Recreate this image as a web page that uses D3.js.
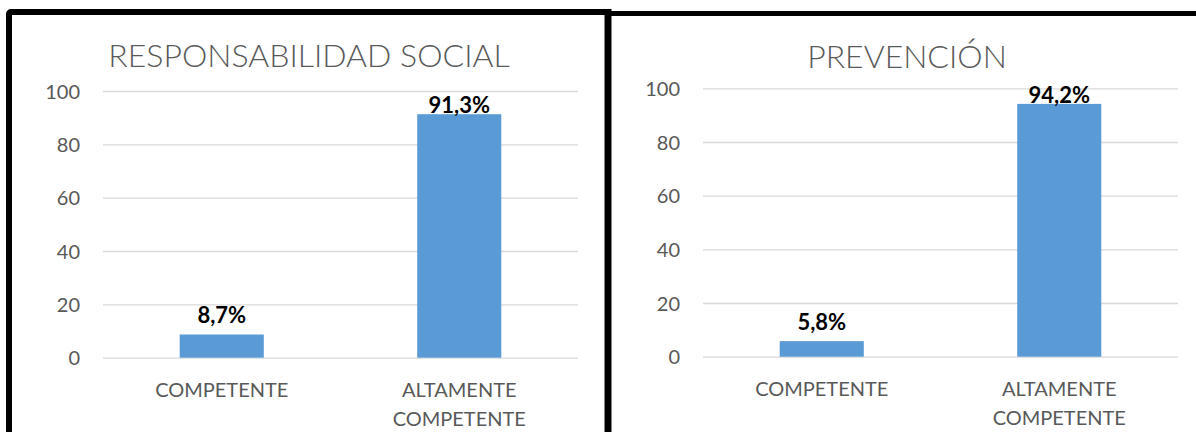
<!DOCTYPE html>
<html>
<head>
<meta charset="utf-8">
<script src="https://cdn.jsdelivr.net/npm/d3@7"></script>
<style>
  html, body { margin: 0; padding: 0; background: #ffffff; }
  svg { display: block; }
  text { font-family: Lato, "Open Sans", sans-serif; }
</style>
</head>
<body>
<svg id="chart" width="1196" height="432"></svg>
<script>
// Categories shared by both panels
const categories = ["COMPETENTE", "ALTAMENTE COMPETENTE"];

// Panel titles
const titles = ["RESPONSABILIDAD SOCIAL", "PREVENCIÓN"];

// Percentages per category
const responsabilidadValues = [8.7, 91.3];
const prevencionValues = [5.8, 94.2];

// Value-axis ticks
const yTicks = [0, 20, 40, 60, 80, 100];

// Spanish-style number formatting (comma decimal)
const esLocale = d3.formatLocale({ decimal: ",", thousands: ".", grouping: [3], currency: ["", " €"] });
const fmtPct = v => esLocale.format(".1f")(v) + "%";

const svg = d3.select("#chart");

// Layout of each panel: frame, plot area, title placement
const panels = [
  {
    title: titles[0], values: responsabilidadValues,
    frame: { x: 9, y: 12, w: 599, h: 460, sw: 6 },
    plot: { x0: 103, x1: 578, top: 91, bottom: 357.7 },
    titleX: 309, titleY: 67, labelCeil: 22
  },
  {
    title: titles[1], values: prevencionValues,
    frame: { x: 608, y: 13.5, w: 620, h: 460, sw: 5 },
    plot: { x0: 703, x1: 1178, top: 88.3, bottom: 356.7 },
    titleX: 907, titleY: 68, labelCeil: 15
  }
];

// Frames: draw the right one first so the left frame's edge sits on top
panels.slice().reverse().forEach(p => {
  svg.append("rect")
    .attr("x", p.frame.x).attr("y", p.frame.y)
    .attr("width", p.frame.w).attr("height", p.frame.h)
    .attr("rx", 2)
    .attr("fill", "#ffffff")
    .attr("stroke", "#000000")
    .attr("stroke-width", p.frame.sw);
});
// Re-stroke the shared vertical edge so it reads as one continuous line
svg.append("line")
  .attr("x1", 608).attr("x2", 608)
  .attr("y1", 9).attr("y2", 432)
  .attr("stroke", "#000").attr("stroke-width", 7);
svg.append("line")
  .attr("x1", 608).attr("x2", 1196)
  .attr("y1", 13.5).attr("y2", 13.5)
  .attr("stroke", "#000").attr("stroke-width", 5);

panels.forEach(p => {
  const g = svg.append("g");

  const x = d3.scaleBand()
    .domain(categories)
    .range([p.plot.x0, p.plot.x1])
    .paddingInner(0.646)
    .paddingOuter(0.323);

  const y = d3.scaleLinear()
    .domain([0, 100])
    .range([p.plot.bottom, p.plot.top]);

  // Title
  g.append("text")
    .attr("x", p.titleX).attr("y", p.titleY)
    .attr("text-anchor", "middle")
    .attr("fill", "#595959")
    .style("font-size", "32px")
    .style("font-weight", 300)
    .text(p.title);

  // Horizontal gridlines with tick labels
  const yAxis = d3.axisLeft(y)
    .tickValues(yTicks)
    .tickSize(-(p.plot.x1 - p.plot.x0))
    .tickPadding(23)
    .tickFormat(d3.format("d"));

  const ya = g.append("g")
    .attr("transform", `translate(${p.plot.x0},0)`)
    .call(yAxis);
  ya.select(".domain").remove();
  ya.selectAll(".tick line")
    .attr("stroke", "#d9d9d9")
    .attr("stroke-width", 1.3);
  ya.selectAll(".tick text")
    .attr("fill", "#595959")
    .attr("dy", "0.36em")
    .style("font-size", "20px")
    .style("font-family", "Lato, 'Open Sans', sans-serif");

  // Bars
  const data = categories.map((c, i) => ({ c, v: p.values[i] }));
  g.selectAll("rect.bar")
    .data(data)
    .join("rect")
    .attr("class", "bar")
    .attr("x", d => x(d.c))
    .attr("width", x.bandwidth())
    .attr("y", d => y(d.v))
    .attr("height", d => y(0) - y(d.v))
    .attr("fill", "#5b9bd5");

  // Value labels above bars, kept inside the plot area
  g.selectAll("text.val")
    .data(data)
    .join("text")
    .attr("class", "val")
    .attr("x", d => x(d.c) + x.bandwidth() / 2)
    .attr("y", d => Math.max(y(d.v) - 11, p.plot.top + p.labelCeil))
    .attr("text-anchor", "middle")
    .attr("fill", "#000000")
    .style("font-size", "22px")
    .style("font-weight", 700)
    .text(d => fmtPct(d.v));

  // Category labels, wrapped on spaces when long
  const cat = g.selectAll("text.cat")
    .data(categories)
    .join("text")
    .attr("class", "cat")
    .attr("x", d => x(d) + x.bandwidth() / 2)
    .attr("y", p.plot.bottom + 39)
    .attr("text-anchor", "middle")
    .attr("fill", "#595959")
    .style("font-size", "20px");
  cat.each(function (d) {
    const words = d.split(" ");
    const t = d3.select(this);
    words.forEach((w, i) => {
      t.append("tspan")
        .attr("x", x(d) + x.bandwidth() / 2)
        .attr("dy", i === 0 ? 0 : 29)
        .text(w);
    });
  });
});
</script>
</body>
</html>
